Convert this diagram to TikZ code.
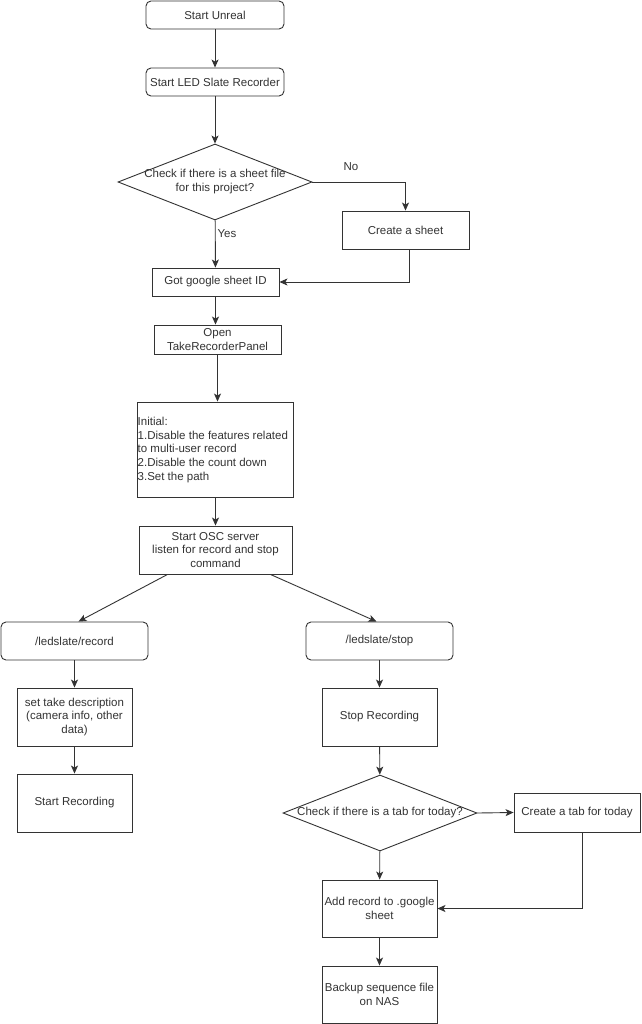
\documentclass[tikz,border=0pt]{standalone}
\usepackage{fontspec}
\setmainfont{Liberation Sans}
\usetikzlibrary{shapes.geometric,arrows.meta}
\definecolor{ln}{HTML}{333333}
\definecolor{tx}{HTML}{333333}
\tikzset{
  box/.style={draw=ln, line width=0.9pt, inner sep=0pt, align=center, text=tx, font=\fontsize{11.5}{14}\selectfont},
  rbox/.style={box, rounded corners=5pt},
  dia/.style={draw=ln, line width=0.9pt, diamond, inner sep=0pt},
  txt/.style={inner sep=0pt, align=center, text=tx, font=\fontsize{11.5}{14}\selectfont},
  arr/.style={draw=ln, line width=0.9pt, -{Stealth[length=8pt,width=7pt,inset=2pt]}},
}
\begin{document}
\begin{tikzpicture}[x=1pt,y=-1pt]
\useasboundingbox[fill=white] (0,0) rectangle (641,1024);
% top column
\node[rbox, minimum width=138pt, minimum height=28pt] (su) at (215,15) {Start Unreal};
\node[rbox, minimum width=138pt, minimum height=28pt] (sl) at (215,82) {Start LED Slate Recorder};
\node[dia, minimum width=194pt, minimum height=76pt] (d1) at (215,182) {};
\node[txt] at (d1.center) {Check if there is a sheet file\\for this project?};
\node[box, minimum width=127pt, minimum height=38pt] (cs) at (405.5,230) {Create a sheet};
\node[box, minimum width=127pt, minimum height=28pt] (gs) at (215.5,282) {Got google sheet ID};
\node[box, minimum width=127pt, minimum height=29pt] (op) at (217.5,339.5) {Open\\TakeRecorderPanel};
\node[box, minimum width=156pt, minimum height=95pt] (in) at (215,449.5) {};
\node[txt, anchor=west, align=left, font=\fontsize{11.5}{13.6}\selectfont] at (137.5,450) {Initial:\\1.Disable the features related\\to multi-user record\\2.Disable the count down\\3.Set the path};
\node[box, minimum width=153pt, minimum height=48pt, font=\fontsize{11.5}{13.6}\selectfont] (osc) at (215.5,550) {Start OSC server\\listen for record and stop\\command};
% left branch
\node[rbox, minimum width=147pt, minimum height=38pt] (rec) at (74.5,641) {/ledslate/record};
\node[box, minimum width=115pt, minimum height=58pt, font=\fontsize{11.5}{13.6}\selectfont] (std) at (74.5,717) {set take description\\(camera info, other\\data)};
\node[box, minimum width=115pt, minimum height=58pt] (sr) at (74.5,803) {Start Recording};
% right branch
\node[rbox, minimum width=147pt, minimum height=38pt] (stp) at (379.5,641) {/ledslate/stop};
\node[box, minimum width=115pt, minimum height=58pt] (sp) at (379.5,717) {Stop Recording};
\node[dia, minimum width=194pt, minimum height=76pt] (d2) at (380,813) {};
\node[txt] at (d2.center) {Check if there is a tab for today?};
\node[box, minimum width=126pt, minimum height=39pt] (ct) at (577,812.5) {Create a tab for today};
\node[box, minimum width=115pt, minimum height=57pt, font=\fontsize{11.5}{13.6}\selectfont] (ad) at (379.5,908.5) {Add record to .google\\sheet};
\node[box, minimum width=115pt, minimum height=57pt, font=\fontsize{11.5}{13.6}\selectfont] (bk) at (379.5,994.5) {Backup sequence file\\on NAS};
% labels
\node[txt] (no) at (351,167) {No};
\node[txt] (yes) at (227,234) {Yes};
% connectors
\draw[arr] (su) -- (sl);
\draw[arr] (sl) -- (d1);
\draw[arr] (d1.east) -| (cs.north);
\draw[arr] (d1) -- (gs);
\draw[arr] ([xshift=4pt]cs.south) |- (gs.east);
\draw[arr] (gs.south) -- (gs.south |- op.north);
\draw[arr] (op) -- (op.south |- in.north);
\draw[arr] (in.south -| osc.north) -- (osc.north);
\draw[arr] ([xshift=-48pt]osc.south) -- ([xshift=4pt]rec.north);
\draw[arr] ([xshift=55pt]osc.south) -- ([xshift=-3pt]stp.north);
\draw[arr] (rec) -- (std);
\draw[arr] (std) -- (sr);
\draw[arr] (stp) -- (sp);
\draw[arr] (sp) -- (d2);
\draw[arr] (d2.east) -- (ct.west);
\draw[arr] (d2) -- (ad);
\draw[arr] ([xshift=5pt]ct.south) |- (ad.east);
\draw[arr] (ad) -- (bk);
\end{tikzpicture}
\end{document}
